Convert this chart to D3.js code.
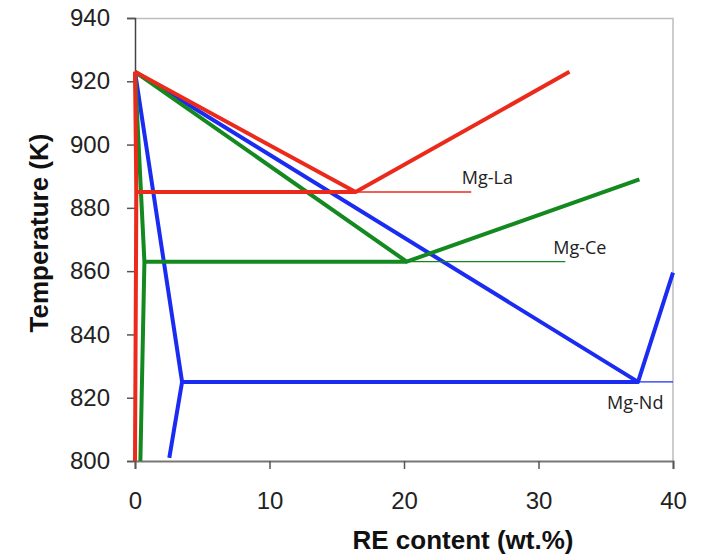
<!DOCTYPE html>
<html>
<head>
<meta charset="utf-8">
<script src="https://cdn.jsdelivr.net/npm/d3@7"></script>
<style>
  body { margin: 0; background: #fff; }
  .canvas { width: 703px; height: 555px; }
  .tick text { font-family: "Liberation Sans", Arial, sans-serif; fill: #222; }
</style>
</head>
<body>
<div class="canvas"></div>
<script>
// data: [RE wt.%, temperature K]
//---------------------------
const xTicks = [0, 10, 20, 30, 40];
const yTicks = [800, 820, 840, 860, 880, 900, 920, 940];

// Mg-La
const laLiquidus = [[0, 923], [16.4, 885], [32.3, 923]];
const laSolidus  = [[0, 923], [0.1, 885], [0, 800]];
const laEutectic = [[0.1, 885], [16.4, 885]];
const laTie      = [[16.4, 885], [25, 885]];

// Mg-Ce
const ceLiquidus = [[0, 923], [20.2, 863], [37.5, 889]];
const ceSolidus  = [[0, 923], [0.7, 863], [0.4, 800]];
const ceEutectic = [[0.7, 863], [20.2, 863]];
const ceTie      = [[20.2, 863], [32, 863]];

// Mg-Nd
const ndLiquidus = [[0, 923], [37.4, 825], [40, 859.5]];
const ndSolidus  = [[0, 923], [3.5, 825], [2.55, 801]];
const ndEutectic = [[3.5, 825], [37.4, 825]];
const ndTie      = [[37.4, 825], [40, 825]];

// label anchors
const labels = [
  { name: 'Mg-La', at: [24.3, 887.5] },
  { name: 'Mg-Ce', at: [31.1, 865.5] },
  { name: 'Mg-Nd', at: [35.1, 816.5] }
];
//---------------------------

const margin = { top: 18, right: 30, bottom: 94, left: 135 };
const width = 703, height = 555;
const graphWidth = width - margin.left - margin.right;
const graphHeight = height - margin.top - margin.bottom;

const svg = d3.select('.canvas').append('svg')
    .attr('width', width)
    .attr('height', height);

const graph = svg.append('g')
    .attr('transform', `translate(${margin.left}, ${margin.top})`);

const x = d3.scaleLinear().domain([0, 40]).range([0, graphWidth]);
const y = d3.scaleLinear().domain([800, 940]).range([graphHeight, 0]);

// light frame on top and right
graph.append('path')
    .attr('d', `M0,0.5H${graphWidth}V${graphHeight}`)
    .attr('fill', 'none')
    .attr('stroke', '#bdbdbd')
    .attr('stroke-width', 1.5);

// axes
const yAxis = d3.axisLeft(y).tickValues(yTicks).tickSize(8).tickPadding(17);
const xAxis = d3.axisBottom(x).tickValues(xTicks).tickSize(8).tickPadding(23);

const yAxisGroup = graph.append('g').call(yAxis);
const xAxisGroup = graph.append('g')
    .attr('transform', `translate(0, ${graphHeight})`)
    .call(xAxis);

yAxisGroup.selectAll('text').attr('font-size', 24);
xAxisGroup.selectAll('text').attr('font-size', 24);
yAxisGroup.select('.domain').attr('stroke', '#444').attr('stroke-width', 1.5);
xAxisGroup.select('.domain').attr('stroke', '#777').attr('stroke-width', 2);
yAxisGroup.selectAll('.tick line').attr('stroke', '#555').attr('stroke-width', 1.5);
xAxisGroup.selectAll('.tick line').attr('stroke', '#555').attr('stroke-width', 1.5);

// lines
const line = d3.line().x(d => x(d[0])).y(d => y(d[1]));

const series = [
  { color: '#1b2cf2', thick: [ndLiquidus, ndSolidus, ndEutectic], thin: ndTie },
  { color: '#13891f', thick: [ceLiquidus, ceSolidus, ceEutectic], thin: ceTie },
  { color: '#ec2a1b', thick: [laLiquidus, laSolidus, laEutectic], thin: laTie }
];

series.forEach(s => {
  graph.append('path')
      .attr('d', line(s.thin))
      .attr('fill', 'none')
      .attr('stroke', s.color)
      .attr('stroke-width', 1.4);
  s.thick.forEach(pts => {
    graph.append('path')
        .attr('d', line(pts))
        .attr('fill', 'none')
        .attr('stroke', s.color)
        .attr('stroke-width', 4)
        .attr('stroke-linejoin', 'round');
  });
});

// series labels
graph.selectAll('.series-label')
    .data(labels)
    .enter()
    .append('text')
    .attr('class', 'series-label')
    .attr('x', d => x(d.at[0]))
    .attr('y', d => y(d.at[1]))
    .attr('font-family', '"Open Sans", sans-serif')
    .attr('font-size', 18)
    .attr('fill', '#222')
    .text(d => d.name);

// axis titles
svg.append('text')
    .attr('x', 463)
    .attr('y', 549)
    .attr('text-anchor', 'middle')
    .attr('font-family', '"Liberation Sans", Arial, sans-serif')
    .attr('font-weight', 'bold')
    .attr('font-size', 26)
    .attr('fill', '#111')
    .text('RE content (wt.%)');

svg.append('text')
    .attr('transform', 'translate(48, 233) rotate(-90)')
    .attr('text-anchor', 'middle')
    .attr('font-family', '"Liberation Sans", Arial, sans-serif')
    .attr('font-weight', 'bold')
    .attr('font-size', 26)
    .attr('fill', '#111')
    .text('Temperature (K)');
</script>
</body>
</html>
